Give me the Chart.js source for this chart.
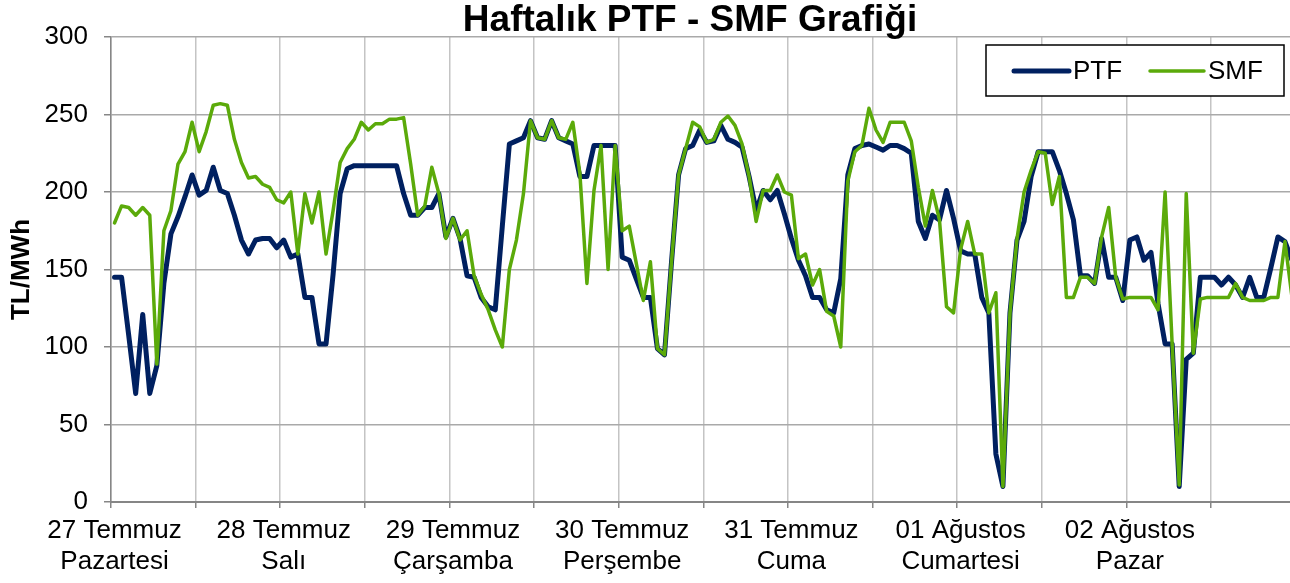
<!DOCTYPE html>
<html>
<head>
<meta charset="utf-8">
<script src="https://cdn.jsdelivr.net/npm/chart.js@4.4.0/dist/chart.umd.min.js"></script>
<style>
  html, body { margin: 0; padding: 0; background: #fff; overflow: hidden; }
  #wrap { width: 1290px; height: 583px; overflow: hidden; }
</style>
</head>
<body>
<div id="wrap"><canvas id="ptfChart" width="1299" height="583"></canvas></div>
<script>
var FONT = '"Liberation Sans", Arial, sans-serif';
var titleText = "Haftalık PTF - SMF Grafiği";

var dayLabels = [
  ["27 Temmuz", "Pazartesi"],
  ["28 Temmuz", "Salı"],
  ["29 Temmuz", "Çarşamba"],
  ["30 Temmuz", "Perşembe"],
  ["31 Temmuz", "Cuma"],
  ["01 Ağustos", "Cumartesi"],
  ["02 Ağustos", "Pazar"]
];

var yTicks = [0, 50, 100, 150, 200, 250, 300];

// hourly values, 24 per day
var ptf = [
  145, 145, 108, 70, 121, 70, 88, 141, 173, 184, 197, 211, 198, 201, 216, 201, 199, 185, 169, 160, 169, 170, 170, 164,
  169, 158, 160, 132, 132, 102, 102, 147, 199, 215, 217, 217, 217, 217, 217, 217, 217, 199, 185, 185, 190, 190, 199, 171,
  183, 170, 146, 145, 132, 126, 124, 178, 231, 233, 235, 246, 235, 234, 246, 235, 233, 231, 210, 210, 230, 230, 230, 230,
  158, 156, 144, 132, 132, 99, 95, 155, 211, 228, 230, 240, 232, 233, 243, 234, 232, 229, 210, 188, 201, 195, 201, 186,
  170, 156, 146, 132, 132, 124, 122, 144, 211, 228, 230, 231, 229, 227, 230, 230, 228, 225, 181, 170, 185, 182, 201, 183,
  162, 160, 160, 132, 122, 31, 10, 122, 169, 181, 210, 226, 226, 226, 214, 199, 182, 146, 146, 141, 170, 145, 145, 130,
  169, 171, 156, 161, 128, 102, 102, 10, 92, 96, 145, 145, 145, 140, 145, 140, 132, 145, 132, 132, 151, 171, 168, 156
];

var smf = [
  180, 191, 190, 185, 190, 185, 89, 175, 188, 218, 226, 245, 226, 239, 256, 257, 256, 234, 219, 209, 210, 205, 203, 195,
  193, 200, 160, 199, 180, 200, 160, 188, 219, 228, 234, 245, 240, 244, 244, 247, 247, 248, 218, 185, 191, 216, 199, 170,
  183, 169, 175, 146, 134, 124, 111, 100, 150, 169, 199, 246, 235, 234, 246, 235, 234, 245, 212, 141, 201, 230, 150, 230,
  175, 178, 154, 130, 155, 99, 95, 155, 211, 228, 245, 242, 232, 234, 245, 249, 243, 231, 210, 181, 201, 201, 211, 200,
  198, 157, 160, 140, 150, 123, 120, 100, 207, 226, 230, 254, 240, 232, 245, 245, 245, 233, 203, 178, 201, 182, 126, 122,
  163, 181, 160, 160, 122, 135, 10, 122, 170, 200, 214, 226, 225, 192, 210, 132, 132, 145, 145, 141, 171, 190, 145, 131,
  132, 132, 132, 132, 124, 200, 102, 11, 199, 96, 131, 132, 132, 132, 132, 141, 132, 130, 130, 130, 132, 132, 168, 132
];

var hours = [];
dayLabels.forEach(function (d) {
  for (var h = 0; h < 24; h++) {
    hours.push(d[0] + " " + (h < 10 ? "0" : "") + h + ":00");
  }
});

var PTF_COLOR = "#002060";
var SMF_COLOR = "#5BAA0A";

// title and in-plot legend, drawn on top
var overlay = {
  id: "overlay",
  afterDraw: function (chart) {
    var c = chart.ctx;
    c.save();
    c.fillStyle = "#000";
    c.font = "bold 37px " + FONT;
    c.textAlign = "center";
    c.textBaseline = "alphabetic";
    c.fillText(titleText, 690, 31);

    c.fillStyle = "#fff";
    c.fillRect(986, 45, 298, 51);
    c.strokeStyle = "#000";
    c.lineWidth = 1.5;
    c.strokeRect(986, 45, 298, 51);

    var slots = [[1014, 1069], [1150, 1204]];
    var widths = [5, 3.5];
    chart.data.datasets.forEach(function (ds, i) {
      c.beginPath();
      c.lineCap = "round";
      c.strokeStyle = ds.borderColor;
      c.lineWidth = widths[i];
      c.moveTo(slots[i][0], 71);
      c.lineTo(slots[i][1], 71);
      c.stroke();
      c.fillStyle = "#000";
      c.font = "26px " + FONT;
      c.textAlign = "left";
      c.textBaseline = "middle";
      c.fillText(ds.label, slots[i][1] + 4, 72);
    });
    c.restore();
  }
};

var ctx = document.getElementById("ptfChart");
var ptfChart = new Chart(ctx, {
  type: "line",
  data: {
    labels: hours,
    datasets: [
      {
        label: "PTF",
        data: ptf,
        borderColor: PTF_COLOR,
        borderWidth: 5,
        pointRadius: 0,
        tension: 0,
        borderJoinStyle: "round",
        borderCapStyle: "round",
        order: 1
      },
      {
        label: "SMF",
        data: smf,
        borderColor: SMF_COLOR,
        borderWidth: 3.5,
        pointRadius: 0,
        tension: 0,
        borderJoinStyle: "round",
        borderCapStyle: "round",
        order: 0
      }
    ]
  },
  options: {
    responsive: false,
    animation: false,
    devicePixelRatio: 1,
    layout: { padding: { top: 37, right: 0, bottom: 0, left: 0 } },
    plugins: {
      legend: { display: false },
      title: { display: false },
      tooltip: { enabled: false }
    },
    scales: {
      x: {
        type: "category",
        offset: true,
        grid: {
          offset: true,
          lineWidth: 1.5,
          tickLength: 6,
          color: function (c) { return c.index % 12 === 0 ? "#c4c4c4" : "rgba(0,0,0,0)"; },
          tickColor: function (c) { return c.index % 12 === 0 ? "#868686" : "rgba(0,0,0,0)"; }
        },
        border: { color: "#868686", width: 2 },
        ticks: {
          autoSkip: false,
          maxRotation: 0,
          minRotation: 0,
          color: "#000",
          padding: 7,
          font: { size: 26, family: FONT },
          callback: function (v, i) { return i % 24 === 0 ? dayLabels[i / 24] : ""; }
        },
        afterFit: function (s) { s.height = 81; }
      },
      y: {
        min: 0,
        max: 300,
        afterBuildTicks: function (s) {
          s.ticks = yTicks.map(function (v) { return { value: v }; });
        },
        grid: { color: "#a9a9a9", lineWidth: 1.5, tickLength: 7, tickColor: "#868686" },
        border: { color: "#868686", width: 1.5 },
        ticks: { color: "#000", padding: 16, font: { size: 26, family: FONT } },
        title: {
          display: true,
          text: "TL/MWh",
          color: "#000",
          font: { size: 26, weight: "bold", family: FONT },
          padding: { top: 6, bottom: 0 }
        },
        afterFit: function (s) { s.width = 111; }
      }
    }
  },
  plugins: [overlay]
});
</script>
</body>
</html>
